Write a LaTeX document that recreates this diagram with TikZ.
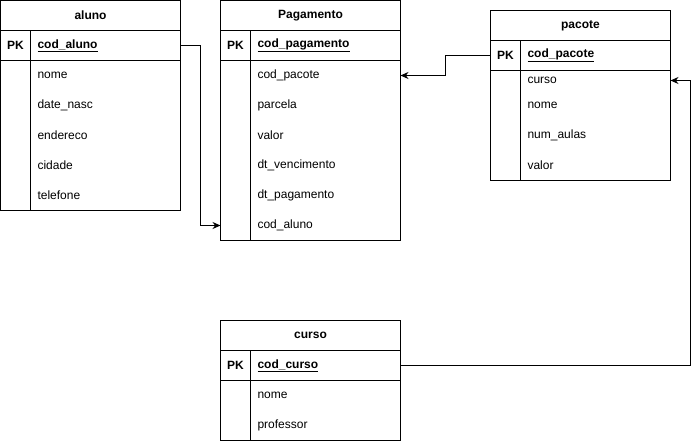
\documentclass[tikz,border=0pt]{standalone}
\usepackage{fontspec}
\setmainfont{Liberation Sans}
\usetikzlibrary{positioning, arrows.meta}

\begin{document}
\begin{tikzpicture}[
x=1pt, y=-1pt,
every node/.style={font=\fontsize{12}{14}\selectfont, outer sep=0pt},
line width=1pt,
head/.style={draw, minimum width=180pt, minimum height=30pt, font=\fontsize{12}{14}\selectfont\bfseries},
pk cell/.style={draw, minimum width=30pt, minimum height=30pt, font=\fontsize{12}{14}\selectfont\bfseries},
key cell/.style={draw, text width=136pt, inner xsep=7pt, minimum height=30pt, align=left, font=\fontsize{12}{14}\selectfont\bfseries},
field/.style={text width=136pt, inner xsep=7pt, minimum height=30pt, align=left},
arrow/.style={-{Stealth[length=8pt, width=7pt]}},
]
\useasboundingbox (-0.5,-0.5) rectangle (698.5,440.5);

% Table aluno
\node[head, anchor=north west] (aluno) at (0,0) {aluno};
\node[pk cell, below=0pt of aluno.south west, anchor=north west] (aluno pk) {PK};
\node[key cell, right=0pt of aluno pk] (aluno key) {\underline{cod\_aluno}};
\node[field, below=0pt of aluno key] (aluno f1) {nome};
\node[field, below=0pt of aluno f1] (aluno f2) {date\_nasc};
\node[field, below=0pt of aluno f2] (aluno f3) {endereco};
\node[field, below=0pt of aluno f3] (aluno f4) {cidade};
\node[field, below=0pt of aluno f4] (aluno f5) {telefone};
\draw (aluno pk.south west) rectangle (aluno f5.south east);
\draw (aluno pk.south east) -- (aluno pk.south east |- aluno f5.south);

% Table Pagamento
\node[head, anchor=north west] (pag) at (220,0) {Pagamento};
\node[pk cell, below=0pt of pag.south west, anchor=north west] (pag pk) {PK};
\node[key cell, right=0pt of pag pk] (pag key) {\underline{cod\_pagamento}};
\node[field, below=0pt of pag key] (pag f1) {cod\_pacote};
\node[field, below=0pt of pag f1] (pag f2) {parcela};
\node[field, below=0pt of pag f2] (pag f3) {valor};
\node[field, below=0pt of pag f3] (pag f4) {dt\_vencimento};
\node[field, below=0pt of pag f4] (pag f5) {dt\_pagamento};
\node[field, below=0pt of pag f5] (pag f6) {cod\_aluno};
\draw (pag pk.south west) rectangle (pag f6.south east);
\draw (pag pk.south east) -- (pag pk.south east |- pag f6.south);

% Table pacote
\node[head, anchor=north west] (pac) at (490,10) {pacote};
\node[pk cell, below=0pt of pac.south west, anchor=north west] (pac pk) {PK};
\node[key cell, right=0pt of pac pk] (pac key) {\underline{cod\_pacote}};
\node[field, minimum height=20pt, below=0pt of pac key] (pac f1) {curso};
\node[field, below=0pt of pac f1] (pac f2) {nome};
\node[field, below=0pt of pac f2] (pac f3) {num\_aulas};
\node[field, below=0pt of pac f3] (pac f4) {valor};
\draw (pac pk.south west) rectangle (pac f4.south east);
\draw (pac pk.south east) -- (pac pk.south east |- pac f4.south);

% Table curso
\node[head, anchor=north west] (cur) at (220,320) {curso};
\node[pk cell, below=0pt of cur.south west, anchor=north west] (cur pk) {PK};
\node[key cell, right=0pt of cur pk] (cur key) {\underline{cod\_curso}};
\node[field, below=0pt of cur key] (cur f1) {nome};
\node[field, below=0pt of cur f1] (cur f2) {professor};
\draw (cur pk.south west) rectangle (cur f2.south east);
\draw (cur pk.south east) -- (cur pk.south east |- cur f2.south);

% Relations
\draw[arrow] (aluno key.east) -- ++(20,0) |- (pag f6 -| pag.west);
\draw[arrow] (pac pk.west) -- ++(-45,0) |- (pag f1.east);
\draw[arrow] (cur key.east) -- ++(290,0) |- (pac f1.east);
\end{tikzpicture}
\end{document}
